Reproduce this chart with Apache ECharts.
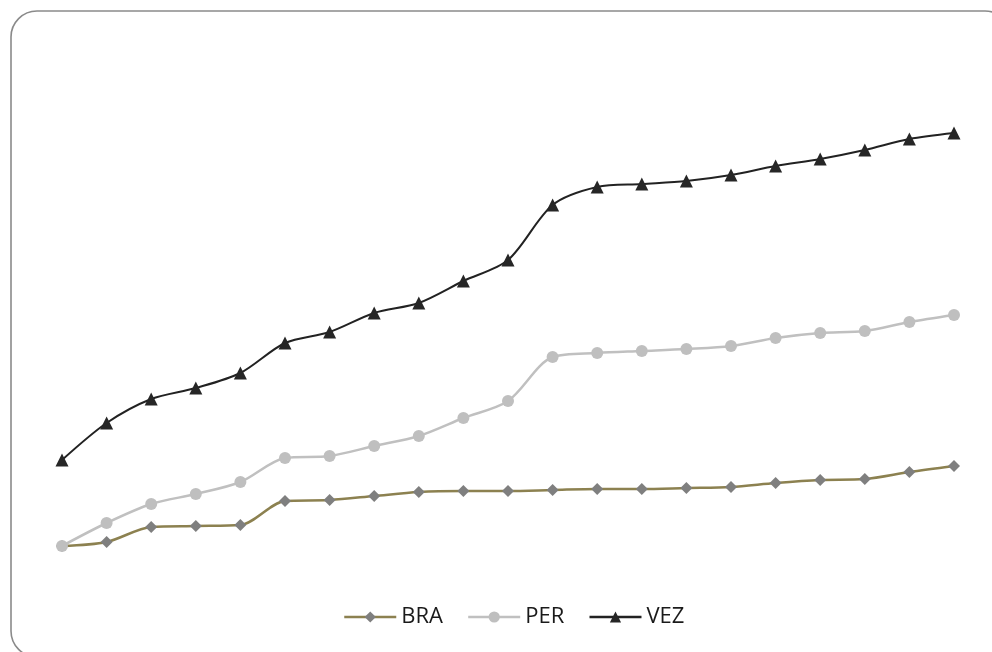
<!DOCTYPE html>
<html>
<head>
<meta charset="utf-8">
<script src="https://cdn.jsdelivr.net/npm/echarts@6/dist/echarts.min.js"></script>
<style>
  html, body { margin: 0; padding: 0; background: #ffffff; }
  #chart { width: 992px; height: 652px; }
</style>
</head>
<body>
<div id="chart"></div>
<script>
// Twenty-one periods, no axis labels shown
const periods = Array.from({ length: 21 }, (_, i) => String(i + 1));

const seriesNames = ['BRA', 'PER', 'VEZ'];

const braValues = [14, 18, 33, 34, 35, 59, 60, 64, 68, 69, 69, 70, 71, 71, 72, 73, 77, 80, 81, 88, 94];
const perValues = [14, 37, 56, 66, 78, 102, 104, 114, 124, 142, 159, 203, 207, 209, 211, 214, 222, 227, 229, 238, 245];
const vezValues = [100, 137, 161, 172, 187, 217, 228, 247, 257, 279, 300, 355, 373, 376, 379, 385, 394, 401, 410, 421, 427];

const chart = echarts.init(document.getElementById('chart'), null, { renderer: 'canvas' });

chart.setOption({
  animation: false,
  backgroundColor: '#ffffff',
  graphic: [{
    type: 'rect',
    z: -10,
    shape: { x: 11, y: 11, width: 1000, height: 646, r: 26 },
    style: { fill: 'none', stroke: '#8a8a8a', lineWidth: 1.6 }
  }],
  grid: { left: 62, right: 38, top: 60, bottom: 92 },
  xAxis: {
    type: 'category',
    data: periods,
    boundaryGap: false,
    show: false
  },
  yAxis: {
    type: 'value',
    min: 0,
    max: 500,
    show: false,
    splitLine: { show: false }
  },
  legend: {
    top: 601,
    left: 338,
    itemWidth: 52,
    itemHeight: 14,
    itemGap: 24,
    lineStyle: { width: 2.5 },
    textStyle: { fontFamily: 'Open Sans', fontSize: 22, color: '#1a1a1a', padding: [0, 0, 0, 0] },
    data: seriesNames
  },
  series: [
    {
      name: 'BRA',
      type: 'line',
      data: braValues,
      smooth: 0.3,
      symbol: 'diamond',
      symbolSize: 12,
      lineStyle: { color: '#8c8150', width: 2.5 },
      itemStyle: { color: '#7f7f7f' },
      z: 2
    },
    {
      name: 'PER',
      type: 'line',
      data: perValues,
      smooth: 0.3,
      symbol: 'circle',
      symbolSize: 12,
      lineStyle: { color: '#c0c0c0', width: 2.5 },
      itemStyle: { color: '#bfbfbf' },
      z: 3
    },
    {
      name: 'VEZ',
      type: 'line',
      data: vezValues,
      smooth: 0.3,
      symbol: 'triangle',
      symbolSize: 13,
      lineStyle: { color: '#222222', width: 2 },
      itemStyle: { color: '#262626' },
      z: 4
    }
  ]
});
</script>
</body>
</html>
